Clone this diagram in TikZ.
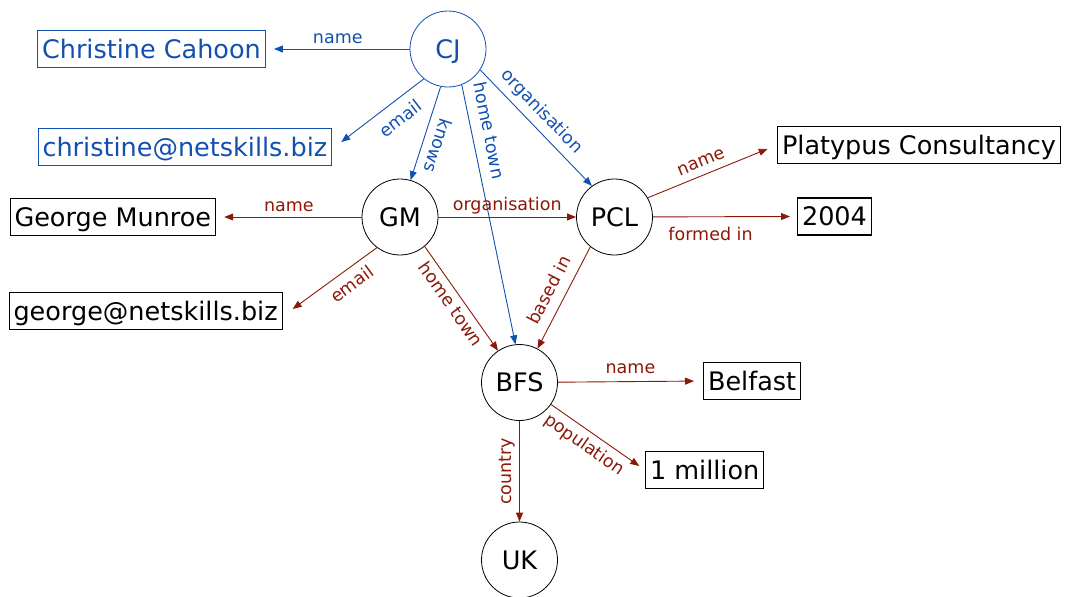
\documentclass[tikz,border=0pt]{standalone}
\usepackage{fontspec}
\setmainfont{DejaVu Sans}
\usetikzlibrary{arrows.meta}
\definecolor{linkblue}{RGB}{18,80,176}
\definecolor{linkred}{RGB}{140,24,8}
\tikzset{
  res/.style={circle, draw=black, line width=0.8pt, minimum size=76pt, inner sep=0pt,
    text height=18.6pt, text depth=0pt, font=\fontsize{25.5}{30}\selectfont},
  lit/.style={draw=black, line width=1.1pt, inner xsep=4.5pt, inner ysep=0pt, anchor=west,
    minimum height=37pt, text height=18.6pt, text depth=0pt, font=\fontsize{25.5}{30}\selectfont},
  rel/.style={line width=0.9pt, -{Triangle[length=9pt,width=7pt]}},
  tobox/.style={shorten >=8pt},
  lbl/.style={font=\fontsize{17.5}{20}\selectfont, inner xsep=1pt, text height=13pt, text depth=4pt},
  bluelink/.style={rel, draw=linkblue, text=linkblue},
  redlink/.style={rel, draw=linkred, text=linkred},
}
\begin{document}
\begin{tikzpicture}[x=1pt, y=-1pt]
\useasboundingbox (0,0) rectangle (1066,597);

% resources
\node[res, draw=linkblue, text=linkblue] (CJ) at (448,49) {CJ};
\node[res] (GM)  at (400,217) {GM};
\node[res] (PCL) at (614.5,217) {PCL};
\node[res] (BFS) at (519.5,382.5) {BFS};
\node[res] (UK)  at (519.5,560) {UK};

% literals
\node[lit, draw=linkblue, text=linkblue] (cname) at (37,49) {Christine Cahoon};
\node[lit, draw=linkblue, text=linkblue] (cmail) at (37.5,147) {christine@netskills.biz};
\node[lit] (gname) at (9.5,217) {George Munroe};
\node[lit] (gmail) at (8.5,311) {george@netskills.biz};
\node[lit] (pname) at (777,145) {Platypus Consultancy};
\node[lit] (pyear) at (797,216.5) {2004};
\node[lit] (bname) at (703,381) {Belfast};
\node[lit] (bpop)  at (645,470) {1 million};

% statements about CJ
\draw[bluelink, tobox] (CJ) -- node[lbl, above, inner ysep=1.5pt] {name} (cname.east);
\draw[bluelink] (CJ.231) -- node[lbl, sloped, below, pos=0.41, inner ysep=10pt] {email}
  ([xshift=9pt, yshift=5pt]cmail.east);
\draw[bluelink] (CJ.259) -- node[lbl, sloped, allow upside down, above, pos=0.58, inner ysep=5pt] {knows} (GM.74);
\draw[bluelink] (CJ.-69) -- node[lbl, sloped, above, pos=0.19, inner ysep=7pt] {home town} (BFS.96);
\draw[bluelink] (CJ.-33) -- node[lbl, sloped, above, pos=0.45, inner ysep=6pt] {organisation} (PCL.126);

% statements about GM
\draw[redlink, tobox] (GM) -- node[lbl, above, inner ysep=1.5pt] {name} (gname.east);
\draw[redlink] (GM.233) -- node[lbl, sloped, below, pos=0.4, inner ysep=7.5pt] {email}
  ([xshift=10pt, yshift=2pt]gmail.east);
\draw[redlink] (GM) -- node[lbl, above, inner ysep=2.5pt] {organisation} (PCL);
\draw[redlink] (GM.-50) -- node[lbl, sloped, below, pos=0.49, inner ysep=4.5pt] {home town} (BFS.124);

% statements about PCL
\draw[redlink, shorten >=10pt] (PCL.30) -- node[lbl, sloped, above, pos=0.45, inner ysep=3.5pt] {name} (pname.west);
\draw[redlink, shorten >=7pt] (PCL) -- node[lbl, below, pos=0.4, inner ysep=10pt] {formed in} (pyear.west);
\draw[redlink] (PCL.231) -- node[lbl, sloped, above, pos=0.5, inner ysep=6pt] {based in} (BFS.62);

% statements about BFS
\draw[redlink, shorten >=9pt] (BFS) -- node[lbl, above, inner ysep=4pt] {name} (bname.west);
\draw[redlink, shorten >=7pt] (BFS) -- node[lbl, sloped, below, pos=0.44, inner ysep=6pt] {population} (bpop.west);
\draw[redlink] (BFS) -- node[lbl, rotate=90, anchor=south, inner ysep=4pt] {country} (UK);
\end{tikzpicture}
\end{document}
